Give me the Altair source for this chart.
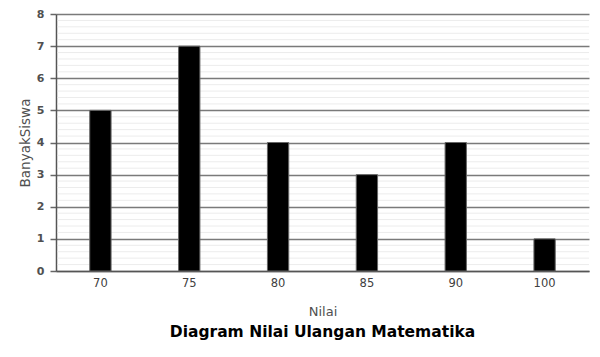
import altair as alt
import pandas as pd

nilai = ["70", "75", "80", "85", "90", "100"]
banyak = [5, 7, 4, 3, 4, 1]
minor_grid = [i / 5 for i in range(1, 40) if i % 5 != 0]

df = pd.DataFrame({"Nilai": nilai, "Banyak": banyak})
grid_df = pd.DataFrame({"g": minor_grid})

FONT = "DejaVu Sans"
W, H = 533, 257

y_axis = alt.Axis(
    title="BanyakSiswa",
    values=list(range(0, 9)),
    labelOverlap=False,
    grid=True,
    gridColor="#7a7a7a",
    gridWidth=1.5,
    tickColor="#666666",
    tickSize=6,
    tickWidth=1.5,
    labelPadding=6,
    labelFontSize=11,
    labelFontWeight="bold",
    labelColor="#505050",
    labelFont=FONT,
    titleFont=FONT,
    titleFontSize=13.5,
    titleFontWeight="normal",
    titleColor="#505050",
    titlePadding=4,
    domainColor="#555555",
    domainWidth=1.5,
)
y_scale = alt.Scale(domain=[0, 8])

minor = alt.Chart(grid_df).mark_rule(color="#ececec", strokeWidth=1).encode(
    y=alt.Y("g:Q", scale=y_scale, axis=y_axis, title="BanyakSiswa"),
    x=alt.value(1.5),
    x2=alt.value(W),
)

bars = alt.Chart(df).mark_bar(color="black", stroke="#666666", strokeWidth=1).encode(
    x=alt.X(
        "Nilai:N",
        sort=nilai,
        scale=alt.Scale(paddingInner=0.76, paddingOuter=0.38),
        axis=alt.Axis(
            title="Nilai",
            labelAngle=0,
            ticks=False,
            labelPadding=6,
            labelFontSize=11.5,
            labelColor="#404040",
            labelFont=FONT,
            titleFont=FONT,
            titleFontSize=13,
            titleFontWeight="normal",
            titleColor="#505050",
            titlePadding=17,
            domainColor="#555555",
            domainWidth=1.5,
        ),
    ),
    y=alt.Y("Banyak:Q", scale=y_scale, axis=y_axis, title="BanyakSiswa"),
)

chart = (
    alt.layer(minor, bars)
    .properties(
        width=W,
        height=H,
        autosize=alt.AutoSizeParams(type="none"),
        padding={"left": 48, "top": 6, "right": 3, "bottom": 70},
        title=alt.TitleParams(
            "Diagram Nilai Ulangan Matematika",
            orient="bottom",
            fontSize=15.5,
            fontWeight="bold",
            font=FONT,
            color="black",
            offset=6,
        ),
    )
    .configure_view(stroke=None)
)

chart.save("out.html", embed_options={"renderer": "svg", "actions": False})
